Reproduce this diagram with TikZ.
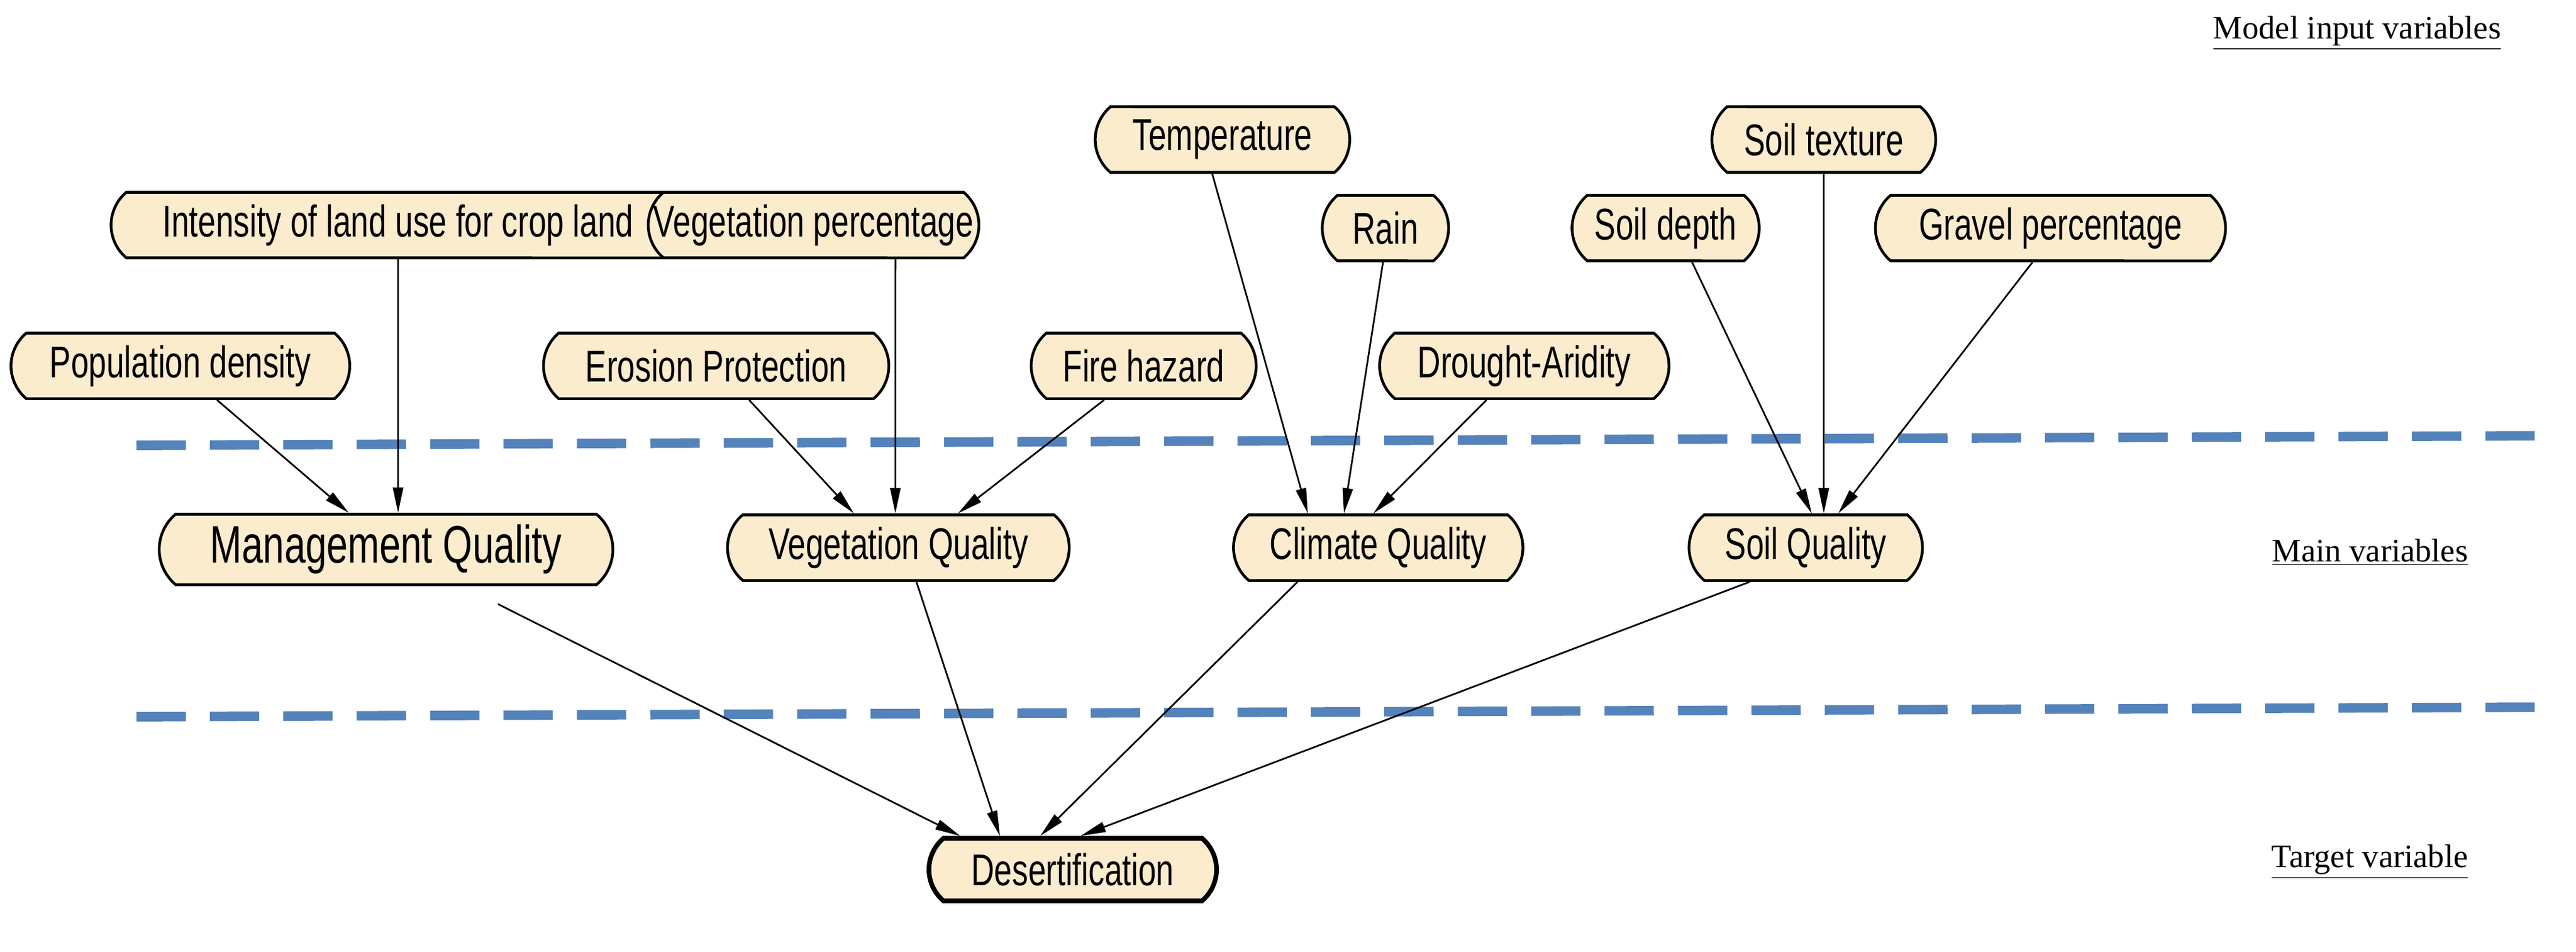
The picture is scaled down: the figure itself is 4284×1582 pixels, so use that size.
\documentclass[tikz,border=0pt]{standalone}
\usepackage{fontspec}
\setmainfont{Liberation Sans}[FakeStretch=0.72]
\newfontfamily\lserif{Liberation Serif}
\usetikzlibrary{shapes.misc,arrows.meta}
\definecolor{cream}{RGB}{251,236,206}
\definecolor{dashblue}{RGB}{84,130,186}
\tikzset{
 box/.style={rounded rectangle, draw=black, line width=1.3pt, fill=cream, minimum height=1.09cm, inner xsep=0pt, font=\fontsize{21}{23}\selectfont, rounded rectangle arc length=100},
 big/.style={box, minimum height=1.17cm, font=\fontsize{25}{27}\selectfont},
 arr/.style={line width=0.8pt, -{Triangle[length=0.42cm,width=0.17cm]}},
 sep/.style={dashblue, line width=4.5pt, dash pattern=on 0.82cm off 0.4cm},
 lab/.style={font=\lserif\fontsize{15.5}{17}\selectfont, inner sep=0pt}
}
\begin{document}
\begin{tikzpicture}[x=0.01cm,y=-0.01cm]
\useasboundingbox (0,0) rectangle (4284,1582);
\draw[sep] (227,740) -- (4254,724);
\draw[sep] (227,1191) -- (4254,1175);
\node[box, minimum width=9.54cm] (int) at (662,374) {Intensity of land use for crop land};
\node[box, minimum width=4.13cm] (vp) at (1353,374) {Vegetation percentage};
\node[box, minimum width=4.23cm] (tmp) at (2033,232) {Temperature};
\node[box, minimum width=3.72cm] (st) at (3033,232) {Soil texture};
\node[box, minimum width=2.10cm] (rain) at (2304,379) {Rain};
\node[box, minimum width=3.11cm] (sd) at (2770,379) {Soil depth};
\node[box, minimum width=5.82cm] (gp) at (3410,379) {Gravel percentage};
\node[box, minimum width=5.63cm] (pd) at (300,608) {Population density};
\node[box, minimum width=5.74cm] (ep) at (1191,608) {Erosion Protection};
\node[box, minimum width=3.74cm] (fh) at (1902,608) {Fire hazard};
\node[box, minimum width=4.81cm] (da) at (2535,608) {Drought-Aridity};
\node[big, minimum width=7.54cm] (mq) at (642,913) {Management Quality};
\node[box, minimum width=5.68cm] (vq) at (1494,910) {Vegetation Quality};
\node[box, minimum width=4.81cm] (cq) at (2292,910) {Climate Quality};
\node[box, minimum width=3.88cm] (sq) at (3003,910) {Soil Quality};
\node[box, line width=2.2pt, minimum width=4.78cm, minimum height=1.04cm] (des) at (1784,1445) {Desertification};
\node[lab, anchor=east] (l1) at (4160,55) {\underline{Model input variables}};
\node[lab, anchor=east] (l2) at (4105,918) {\underline{Main variables}};
\node[lab, anchor=east] (l3) at (4105,1432) {\underline{Target variable}};
\draw[arr] ([xshift=0.61cm]pd.south) -- ([xshift=-0.62cm]mq.north);
\draw[arr] ([xshift=0cm]int.south) -- ([xshift=0.20cm]mq.north);
\draw[arr] ([xshift=0.55cm]ep.south) -- ([xshift=-0.74cm]vq.north);
\draw[arr] ([xshift=1.36cm]vp.south) -- ([xshift=-0.05cm]vq.north);
\draw[arr] ([xshift=-0.66cm]fh.south) -- ([xshift=0.99cm]vq.north);
\draw[arr] ([xshift=-0.17cm]tmp.south) -- ([xshift=-1.17cm]cq.north);
\draw[arr] ([xshift=-0.04cm]rain.south) -- ([xshift=-0.57cm]cq.north);
\draw[arr] ([xshift=-0.63cm]da.south) -- ([xshift=-0.08cm]cq.north);
\draw[arr] ([xshift=0.44cm]sd.south) -- ([xshift=0.10cm]sq.north);
\draw[arr] ([xshift=0cm]st.south) -- ([xshift=0.30cm]sq.north);
\draw[arr] ([xshift=-0.30cm]gp.south) -- ([xshift=0.54cm]sq.north);
\draw[arr] ([xshift=1.86cm,yshift=-0.3cm]mq.south) -- ([xshift=-1.87cm]des.north);
\draw[arr] ([xshift=0.30cm]vq.south) -- ([xshift=-1.21cm]des.north);
\draw[arr] ([xshift=-1.34cm]cq.south) -- ([xshift=-0.54cm]des.north);
\draw[arr] ([xshift=-0.93cm]sq.south) -- ([xshift=0.13cm]des.north);
\end{tikzpicture}
\end{document}
